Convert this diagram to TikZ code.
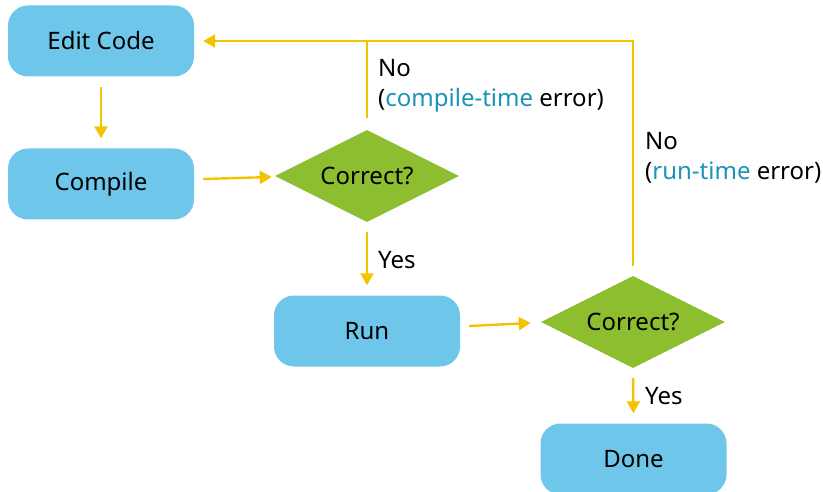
\documentclass[tikz,border=0pt]{standalone}
\usepackage{fontspec}
\setmainfont{Noto Sans}
\usetikzlibrary{shapes.geometric,arrows.meta,calc}
\definecolor{boxblue}{HTML}{6EC7EA}
\definecolor{dgreen}{HTML}{8DBE2F}
\definecolor{arrowy}{HTML}{F4C300}
\definecolor{txtblue}{HTML}{1A93B8}
\tikzset{
  x=1pt,y=1pt,
  every node/.style={font=\fontsize{24}{30}\selectfont},
  stepbox/.style={draw=none,fill=boxblue,rounded corners=20pt,minimum width=186pt,minimum height=71pt,inner sep=0pt},
  decide/.style={diamond,aspect=2,fill=dgreen,minimum width=184pt,minimum height=92pt,inner sep=0pt},
  flow/.style={draw=arrowy,line width=2.4pt,-{Triangle[length=12pt,width=13pt]}},
  plainline/.style={draw=arrowy,line width=2.4pt},
  lbl/.style={anchor=west,align=left,inner sep=0pt}
}
\begin{document}
\begin{tikzpicture}
\useasboundingbox (0,0) rectangle (823,491);
\node[stepbox] (edit) at (101,450) {Edit Code};
\node[stepbox] (compile) at (101,307) {Compile};
\node[decide] (d1) at (367,315) {Correct?};
\node[stepbox] (run) at (367,160) {Run};
\node[decide] (d2) at (633,169) {Correct?};
\node[stepbox] (done) at (633.5,32) {Done};

\draw[flow,shorten <=10pt,shorten >=10pt] (edit.south) -- (compile.north);
\draw[flow] ($(compile.east)+(9,5)$) -- ($(d1.west)+(-3,-1)$);
\draw[flow,shorten <=10pt,shorten >=10pt] (d1.south) -- (run.north);
\draw[flow] ($(run.east)+(9,5)$) -- ($(d2.west)+(-10,-1)$);
\draw[flow,shorten <=10pt,shorten >=10pt] (d2.south) -- (done.north);
\draw[flow,shorten >=9pt] ($(d2.north)+(0,10)$) |- (edit.east);
\draw[plainline] ($(d1.north)+(0,12)$) -- (d1.north |- edit.east);

\node[lbl] (no1) at (378,405) {No\\(\textcolor{txtblue}{compile-time} error)};
\node[lbl] (no2) at (645,333) {No\\(\textcolor{txtblue}{run-time} error)};
\node[lbl] (yes1) at (378,231) {Yes};
\node[lbl] (yes2) at (645,95) {Yes};
\end{tikzpicture}
\end{document}
